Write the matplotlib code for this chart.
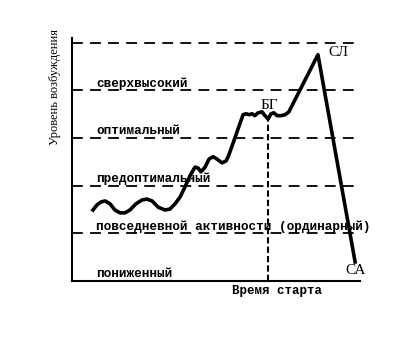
import matplotlib.pyplot as plt

# arousal curve, time in % of the axis, level in zone units
time = [7.3, 8.7, 10.1, 11.5, 13.2, 14.9, 16.7, 18.4, 20.1, 22.2, 24.3, 26.0,
        27.8, 29.9, 32.3, 34.0, 35.8, 37.5, 39.2, 41.0, 42.7, 43.8, 44.8, 46.2,
        47.6, 49.0, 50.3, 52.1, 53.5, 54.5, 59.4, 60.4, 61.5, 62.5, 63.5, 64.6,
        66.0, 67.0, 68.1, 69.1, 70.1, 71.2, 72.6, 74.0, 75.3, 85.4, 98.3]
level = [1.49, 1.60, 1.66, 1.68, 1.62, 1.49, 1.43, 1.43, 1.49, 1.62, 1.70, 1.72,
         1.68, 1.55, 1.49, 1.51, 1.62, 1.76, 1.97, 2.21, 2.39, 2.37, 2.29, 2.39,
         2.56, 2.61, 2.56, 2.48, 2.52, 2.65, 3.49, 3.51, 3.49, 3.51, 3.47, 3.53,
         3.55, 3.47, 3.40, 3.51, 3.53, 3.47, 3.47, 3.49, 3.55, 4.75, 0.40]

zone_lines = [1, 2, 3, 4, 5]
zone_labels = ['пониженный', 'повседневной активности (ординарный)',
               'предоптимальный', 'оптимальный', 'сверхвысокий']
start_time = 68.1
start_level = 3.40

fig = plt.figure(figsize=(4.03, 3.51), dpi=100)
ax = fig.add_axes([72/403, 1 - 281/351, 288/403, 243/351])
ax.set_xlim(0, 100)
ax.set_ylim(0, 5.1)

for y in zone_lines:
    ax.plot([0, 99], [y, y], color='black', lw=1.3, ls=(0, (6, 4)))

for i, lab in enumerate(zone_labels):
    ax.text(8.3, i + 0.14, lab, fontsize=9.2, family='Liberation Mono',
            fontweight='bold', va='center', ha='left', clip_on=False)

ax.plot([start_time, start_time], [0, start_level], color='black', lw=1.5,
        ls=(0, (3, 1.5)))

ax.plot(time, level, color='black', lw=2.6, solid_joinstyle='round')

ax.text(68.4, 3.68, 'БГ', fontsize=11, family='Liberation Serif', ha='center', va='center')
ax.text(92.5, 4.8, 'СЛ', fontsize=11, family='Liberation Serif', ha='center', va='center')
ax.text(98.3, 0.23, 'СА', fontsize=11, family='Liberation Serif', ha='center', va='center',
        clip_on=False)
ax.text(71.2, -0.21, 'Время старта', fontsize=9, family='Liberation Mono',
        fontweight='bold', ha='center', va='center', clip_on=False)

fig.text(55/403, 1 - 87/351, 'Уровень возбуждения', rotation=90, fontsize=9,
         family='Liberation Serif', ha='center', va='center')

for s in ['top', 'right']:
    ax.spines[s].set_visible(False)
ax.spines['left'].set_linewidth(1.5)
ax.spines['bottom'].set_linewidth(1.5)
ax.set_xticks([])
ax.set_yticks([])

fig.savefig('out.png', dpi=100)
